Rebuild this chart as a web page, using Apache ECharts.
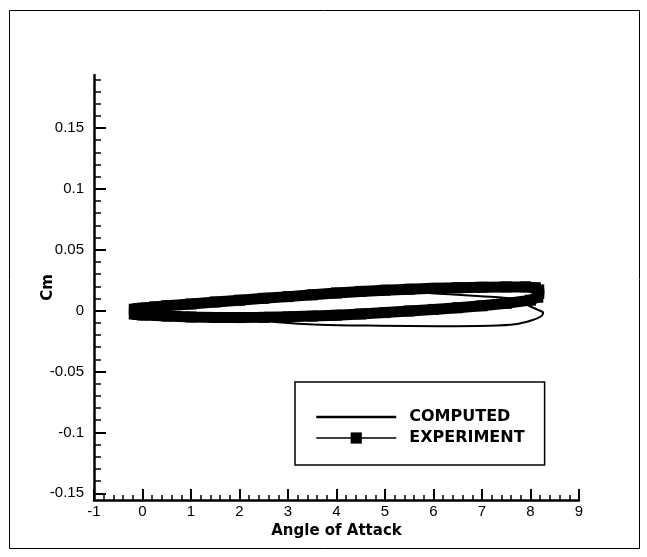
<!DOCTYPE html>
<html>
<head>
<meta charset="utf-8">
<title>Cm vs Angle of Attack</title>
<script src="https://cdn.jsdelivr.net/npm/echarts@6/dist/echarts.min.js"></script>
<style>
  html, body { margin: 0; padding: 0; background: #fff; }
  #chart { width: 647px; height: 557px; }
</style>
</head>
<body>
<div id="chart"></div>
<script>
// experiment: upper branch then lower branch
const expAngle = [
  -0.17, -0.1, 0.0, 0.25, 0.5, 1.0, 1.5, 2.0, 2.5, 3.0, 3.5, 4.0, 4.5, 5.0,
  5.5, 6.0, 6.5, 7.0, 7.5, 7.9, 8.1, 8.17, 8.17, 8.15,
  8.0, 7.5, 7.0, 6.5, 6.0, 5.5, 5.0, 4.5, 4.0, 3.5, 3.0, 2.5, 2.0, 1.5,
  1.0, 0.5, 0.0, -0.1, -0.17
]
const expCm = [
  0.0012, 0.0016, 0.0021, 0.0031, 0.004, 0.0055, 0.0071, 0.0086, 0.0101,
  0.0115, 0.013, 0.0145, 0.0158, 0.0168, 0.0176, 0.0183, 0.0188, 0.0192,
  0.0195, 0.0195, 0.0188, 0.017, 0.014, 0.011,
  0.0086, 0.006, 0.004, 0.0024, 0.001, -0.0003, -0.0016, -0.0027, -0.0037,
  -0.0045, -0.0051, -0.0055, -0.0057, -0.0056, -0.0052, -0.0045, -0.0036,
  -0.0032, -0.0028
]

const compAngle = [
  -0.05, 0.77, 2.2, 2.8, 3.65, 4.9, 6.1, 7.15, 7.68, 8.03, 8.22, 8.26, 8.15,
  7.95, 7.8, 7.4, 6.9, 6.4, 5.9, 5.3, 4.28, 3.25, 2.36, 1.19, 0.36, -0.05
]
const compCm = [
  -0.0005, -0.003, -0.0062, -0.0095, -0.0116, -0.0124, -0.0128, -0.0124,
  -0.0112, -0.0079, -0.0046, -0.0017, 0.0007, 0.0044, 0.0085, 0.0108,
  0.012, 0.0132, 0.0145, 0.0151, 0.014, 0.0115, 0.009, 0.0055, 0.0025,
  -0.0005
]

const yMajorTicks = [-0.15, -0.1, -0.05, 0, 0.05, 0.1, 0.15]
const yMinorTicks = [
  -0.15, -0.14, -0.13, -0.12, -0.11, -0.1, -0.09, -0.08, -0.07, -0.06, -0.05,
  -0.04, -0.03, -0.02, -0.01, 0, 0.01, 0.02, 0.03, 0.04, 0.05, 0.06, 0.07,
  0.08, 0.09, 0.1, 0.11, 0.12, 0.13, 0.14, 0.15, 0.16, 0.17, 0.18, 0.19
]

function pairs(xs, ys) {
  return xs.map((x, i) => [x, ys[i]])
}

const chart = echarts.init(document.getElementById('chart'))

const labelFont = {
  color: '#000',
  fontFamily: 'Liberation Sans',
  fontSize: 15
}
const titleFont = {
  color: '#000',
  fontFamily: 'DejaVu Sans',
  fontWeight: 'bold',
  fontSize: 15
}

const option = {
  backgroundColor: '#fff',
  animation: false,
  graphic: [
    {
      type: 'rect',
      shape: { x: 9.5, y: 10.5, width: 630, height: 538 },
      style: { fill: 'none', stroke: '#000', lineWidth: 1 }
    }
  ],
  grid: { left: 94, top: 75, right: 68, bottom: 57 },
  legend: {
    orient: 'vertical',
    left: 295,
    top: 382,
    padding: [27, 20, 19, 20],
    borderColor: '#000',
    borderWidth: 1.5,
    itemWidth: 80,
    itemHeight: 14,
    itemGap: 5,
    textStyle: {
      color: '#000',
      fontFamily: 'DejaVu Sans',
      fontWeight: 'bold',
      fontSize: 16,
      padding: [0, 0, 0, 8]
    },
    data: [
      {
        name: 'COMPUTED',
        lineStyle: { width: 2.5, color: '#000' },
        itemStyle: { opacity: 0 }
      },
      {
        name: 'EXPERIMENT',
        lineStyle: { width: 1.5, color: '#000' }
      }
    ]
  },
  xAxis: {
    type: 'value',
    min: -1,
    max: 9,
    interval: 1,
    name: 'Angle of Attack',
    nameLocation: 'middle',
    nameGap: 22,
    nameTextStyle: titleFont,
    axisLine: { onZero: false, lineStyle: { color: '#000', width: 2.5 } },
    axisTick: { inside: true, length: 11, lineStyle: { color: '#000', width: 2 } },
    minorTick: { show: true, splitNumber: 5, length: 5, lineStyle: { color: '#000', width: 1.5 } },
    axisLabel: Object.assign({ margin: 4 }, labelFont),
    splitLine: { show: false }
  },
  yAxis: [
    {
      type: 'value',
      min: -0.1555,
      max: 0.1935,
      name: 'Cm',
      nameLocation: 'middle',
      nameGap: 38,
      nameMoveOverlap: false,
      nameTextStyle: titleFont,
      axisLine: { show: true, onZero: false, lineStyle: { color: '#000', width: 2.5 } },
      axisTick: {
        show: true,
        inside: true,
        length: 12,
        customValues: yMajorTicks,
        lineStyle: { color: '#000', width: 2 }
      },
      axisLabel: Object.assign({ margin: 10, customValues: yMajorTicks }, labelFont),
      splitLine: { show: false }
    },
    {
      type: 'value',
      position: 'left',
      offset: 0,
      min: -0.1555,
      max: 0.1935,
      axisLine: { show: false, onZero: false },
      axisTick: {
        show: true,
        inside: true,
        length: 7,
        customValues: yMinorTicks,
        lineStyle: { color: '#000', width: 1.5 }
      },
      axisLabel: { show: false },
      splitLine: { show: false }
    }
  ],
  series: [
    {
      name: 'COMPUTED',
      type: 'line',
      data: pairs(compAngle, compCm),
      showSymbol: false,
      smooth: 0.3,
      color: '#000',
      lineStyle: { color: '#000', width: 2 },
      z: 3
    },
    {
      name: 'EXPERIMENT',
      type: 'line',
      data: pairs(expAngle, expCm),
      symbol: 'rect',
      symbolSize: 11,
      color: '#000',
      itemStyle: { color: '#000' },
      lineStyle: { color: '#000', width: 11 },
      z: 2
    }
  ]
}

chart.setOption(option)
</script>
</body>
</html>
